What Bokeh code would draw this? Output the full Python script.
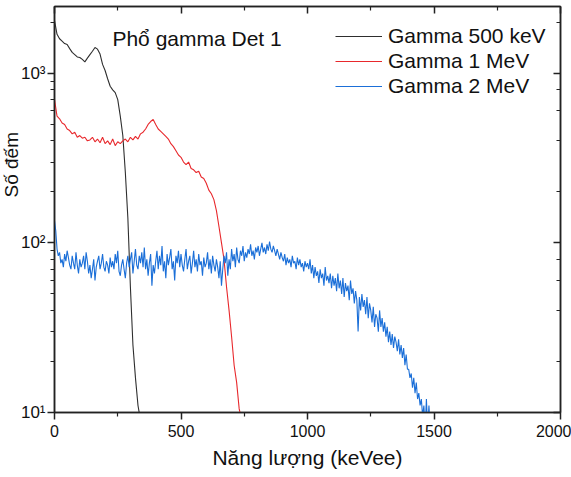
from bokeh.plotting import figure
from bokeh.models import (Range1d, LogAxis, LinearAxis, FixedTicker, Label, Legend, LegendItem,
                          CustomJSTickFormatter, Title)
from bokeh.embed import file_html
from bokeh.resources import INLINE

# ---- data (energy in keVee, counts) ----
e_500 = list(range(0, 350, 10))
c_500 = [2050, 1700, 1600, 1550, 1500, 1480, 1400, 1330, 1290, 1250,
         1240, 1210, 1170, 1230, 1290, 1350, 1420, 1390, 1300, 1130,
         1040, 930, 840, 800, 770, 700, 560, 430, 260, 140,
         55, 25, 16, 11, 9]

e_1m = list(range(0, 750, 10))
c_1m = [700, 560, 540, 510, 500, 470, 460, 440, 450, 420,
        430, 415, 420, 400, 405, 420, 395, 410, 390, 420,
        385, 400, 380, 410, 375, 395, 385, 400, 410, 395,
        420, 405, 425, 410, 440, 450, 470, 500, 520, 535,
        500, 470, 455, 440, 425, 410, 385, 370, 350, 330,
        320, 300, 290, 300, 275, 270, 260, 265, 245, 240,
        225, 205, 195, 180, 155, 125, 100, 80, 55, 40,
        28, 19, 15, 10.5, 9]

e_2m = list(range(0, 1500, 5))
c_2m = [135, 118, 92, 84, 88, 76, 80, 72, 86, 78, 90, 82, 74, 70, 84, 76, 70, 88, 74, 66,
        80, 72, 76, 84, 70, 88, 78, 66, 74, 62, 70, 80, 60, 72, 78, 84, 70, 76, 86, 72,
        68, 78, 74, 66, 82, 72, 78, 70, 86, 76, 90, 68, 64, 74, 80, 70, 62, 76, 84, 72,
        80, 88, 66, 78, 92, 74, 70, 84, 76, 88, 72, 94, 70, 80, 64, 76, 86, 56, 74, 66,
        78, 90, 70, 84, 74, 96, 68, 78, 62, 86, 74, 82, 92, 70, 78, 60, 84, 76, 90, 72,
        86, 74, 68, 80, 92, 70, 78, 84, 66, 76, 90, 72, 80, 68, 86, 74, 78, 64, 82, 72,
        76, 88, 70, 80, 66, 84, 74, 68, 80, 72, 62, 78, 56, 70, 84, 76, 88, 64, 80, 70,
        92, 78, 86, 72, 94, 80, 76, 90, 84, 96, 78, 88, 82, 92, 86, 98, 84, 90, 80, 94,
        88, 96, 84, 92, 100, 88, 94, 86, 98, 90, 102, 92, 88, 96, 90, 84, 92, 86, 80, 88,
        82, 78, 86, 74, 82, 76, 80, 72, 84, 76, 78, 70, 82, 74, 80, 72, 76, 68, 78, 72,
        76, 70, 80, 66, 74, 62, 72, 64, 68, 58, 70, 62, 66, 56, 72, 60, 64, 58, 66, 54,
        64, 56, 62, 52, 66, 54, 60, 50, 62, 48, 58, 52, 56, 46, 60, 50, 54, 44, 52, 46,
        30, 48, 40, 50, 42, 46, 38, 48, 36, 44, 40, 34, 42, 32, 38, 36, 30, 40, 32, 36,
        30, 34, 28, 32, 26, 30, 25, 29, 24, 28, 26, 23, 27, 22, 25, 21, 24, 19, 22, 18,
        18, 16, 17, 14, 16, 13, 15, 12, 13, 11, 12, 9.5, 11, 8, 12, 8, 11, 8, 10, 8]

x_ticks = [0, 500, 1000, 1500, 2000]
x_minor = [250, 750, 1250, 1750]
y_tick_labels = {10: "10¹", 100: "10²", 1000: "10³"}

title_text = "Phổ gamma Det 1"
x_label = "Năng lượng (keVee)"
y_label = "Số đếm"
series_names = ["Gamma 500 keV", "Gamma 1 MeV", "Gamma 2 MeV"]
series_colors = ["#2e2e2e", "#e8282c", "#1b6fd8"]

FONT = "Liberation Sans"
AXC = "#222222"

p = figure(width=571, height=477, output_backend="svg", toolbar_location=None,
           y_axis_type="log", x_range=Range1d(0, 2000), y_range=Range1d(10, 2480),
           min_border_left=54, min_border_right=11, min_border_top=6, min_border_bottom=65)
p.xgrid.visible = False
p.ygrid.visible = False
p.outline_line_color = AXC
p.outline_line_width = 1.5
p.background_fill_color = "white"

r1 = p.line(e_500, c_500, line_color=series_colors[0], line_width=1.1)
r2 = p.line(e_1m, c_1m, line_color=series_colors[1], line_width=1.1)
r3 = p.line(e_2m, c_2m, line_color=series_colors[2], line_width=1.1)

def style_axis(ax, inward):
    ax.axis_line_color = AXC
    ax.axis_line_width = 1.5
    ax.major_tick_line_color = AXC
    ax.minor_tick_line_color = AXC
    ax.major_tick_line_width = 1.5
    ax.minor_tick_line_width = 1.2
    if inward:
        ax.major_tick_in, ax.major_tick_out = 7, 0
        ax.minor_tick_in, ax.minor_tick_out = 4, 0
    else:
        ax.major_tick_in, ax.major_tick_out = 0, 7
        ax.minor_tick_in, ax.minor_tick_out = 0, 4
    ax.major_label_text_font = FONT
    ax.major_label_text_font_size = "16px"
    ax.major_label_text_color = "#111111"

xt = FixedTicker(ticks=x_ticks, minor_ticks=x_minor)
xa = p.xaxis[0]
xa.ticker = xt
style_axis(xa, False)
xa.major_label_standoff = 5
xa.axis_label = x_label
xa.axis_label_text_font = FONT
xa.axis_label_text_font_size = "21px"
xa.axis_label_text_font_style = "normal"
xa.axis_label_text_color = "#111111"
xa.axis_label_standoff = 6

ya = p.yaxis[0]
style_axis(ya, False)
ya.major_label_text_font_size = "17px"
ya.major_label_overrides = y_tick_labels
ya.major_label_standoff = 2

blank = CustomJSTickFormatter(code="return ''")
top = LinearAxis(ticker=FixedTicker(ticks=x_ticks, minor_ticks=x_minor), formatter=blank)
style_axis(top, True)
top.major_label_standoff = 0
p.add_layout(top, "above")
right = LogAxis(formatter=CustomJSTickFormatter(code="return ''"))
style_axis(right, True)
right.major_label_standoff = 0
p.add_layout(right, "right")

# y label (side title, shifted up) and in-plot title
p.add_layout(Title(text=y_label, align="left", offset=215, text_font=FONT,
                   text_font_size="19px", text_font_style="normal", text_color="#111111",
                   standoff=-8), "left")
p.add_layout(Label(x=229, y=1607, text=title_text, text_align="left",
                   text_baseline="alphabetic", text_font=FONT, text_font_size="21px",
                   text_color="#111111"))

legend = Legend(items=[LegendItem(label=series_names[0], renderers=[r1]),
                       LegendItem(label=series_names[1], renderers=[r2]),
                       LegendItem(label=series_names[2], renderers=[r3])],
                location=(281, 314), padding=0, margin=0, spacing=1,
                glyph_width=47, glyph_height=20, label_height=20, label_standoff=6,
                label_text_font=FONT, label_text_font_size="21px", label_text_color="#111111",
                background_fill_alpha=0, border_line_alpha=0)
p.add_layout(legend)

open("out.html", "w").write(file_html(p, INLINE))
